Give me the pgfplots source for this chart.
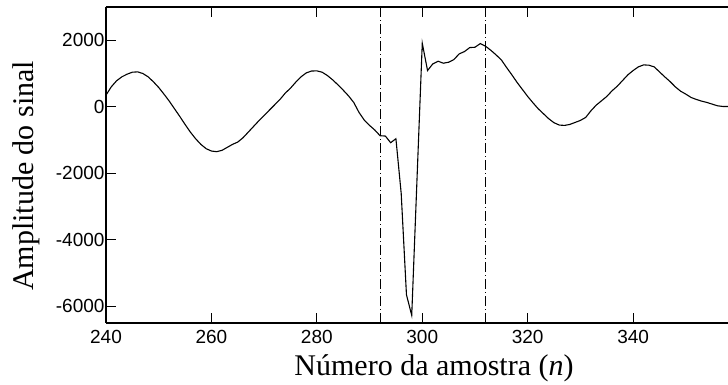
\documentclass[border=0pt]{standalone}
\usepackage{fontspec}
\setmainfont{Liberation Serif}
\newfontfamily\ticksans{Liberation Sans}
\usepackage{pgfplots}
\pgfplotsset{compat=1.18}
\begin{document}
\begin{tikzpicture}
\useasboundingbox (-106pt,-62pt) rectangle (622pt,323pt);
\begin{axis}[
  scale only axis,
  width=622pt, height=316pt,
  xmin=240, xmax=358, ymin=-6500, ymax=3000,
  axis x line=box, axis y line=left,
  axis line style={line width=1.4pt,-},
  xtick={240,260,...,340},
  ytick={-6000,-4000,-2000,0,2000},
  tick align=inside,
  major tick length=10pt,
  tick style={line width=1pt,black},
  /pgf/number format/assume math mode=true,
  /pgf/number format/1000 sep={},
  tick label style={font=\ticksans\fontsize{19}{19}\selectfont},
  xticklabel style={yshift=-4pt},
  yticklabel style={xshift=2pt},
  xlabel={Número da amostra (\textit{n})},
  ylabel={Amplitude do sinal},
  xlabel style={font=\fontsize{30}{30}\selectfont, yshift=-4pt, xshift=17pt},
  ylabel style={font=\fontsize{30}{30}\selectfont, yshift=9pt, xshift=-11pt},
  clip=true,
]
\addplot[black, line width=1.1pt] coordinates {
(240,350) (241,600) (242,780) (243,900) (244,980) (245,1040) (246,1050) (247,1000) (248,900) (249,750)
(250,580) (251,380) (252,170) (253,-60) (254,-290) (255,-530) (256,-760) (257,-960) (258,-1130) (259,-1260)
(260,-1330) (261,-1350) (262,-1310) (263,-1220) (264,-1130) (265,-1060) (266,-930) (267,-760) (268,-590) (269,-420)
(270,-260) (271,-100) (272,60) (273,220) (274,410) (275,560) (276,740) (277,900) (278,1020) (279,1075)
(280,1080) (281,1040) (282,940) (283,810) (284,660) (285,500) (286,330) (287,130) (288,-170) (289,-400)
(290,-560) (291,-700) (292,-870) (293,-880) (294,-1080) (295,-960) (296,-2600) (297,-5650) (298,-6270)
(300,1910) (301,1090) (302,1290) (303,1370) (304,1310) (305,1340) (306,1420) (307,1590) (308,1660) (309,1780)
(310,1790) (311,1900) (312,1820) (313,1700) (314,1560) (315,1410) (316,1180) (317,960) (318,730) (319,520)
(320,310) (321,120) (322,-60) (323,-210) (324,-360) (325,-480) (326,-550) (327,-560) (328,-530) (329,-470)
(330,-410) (331,-320) (332,-120) (333,50) (334,180) (335,310) (336,480) (337,620) (338,790) (339,960)
(340,1090) (341,1200) (342,1260) (343,1250) (344,1200) (345,1050) (346,900) (347,760) (348,600) (349,470)
(350,380) (351,280) (352,220) (353,170) (354,130) (355,80) (356,30) (357,10) (358,10)
};
\addplot[black, line width=0.9pt, dash pattern=on 10pt off 3pt on 1pt off 3pt] coordinates {(292,-6500) (292,3000)};
\addplot[black, line width=0.9pt, dash pattern=on 10pt off 3pt on 1pt off 3pt] coordinates {(312,-6500) (312,3000)};
\end{axis}
\end{tikzpicture}
\end{document}
